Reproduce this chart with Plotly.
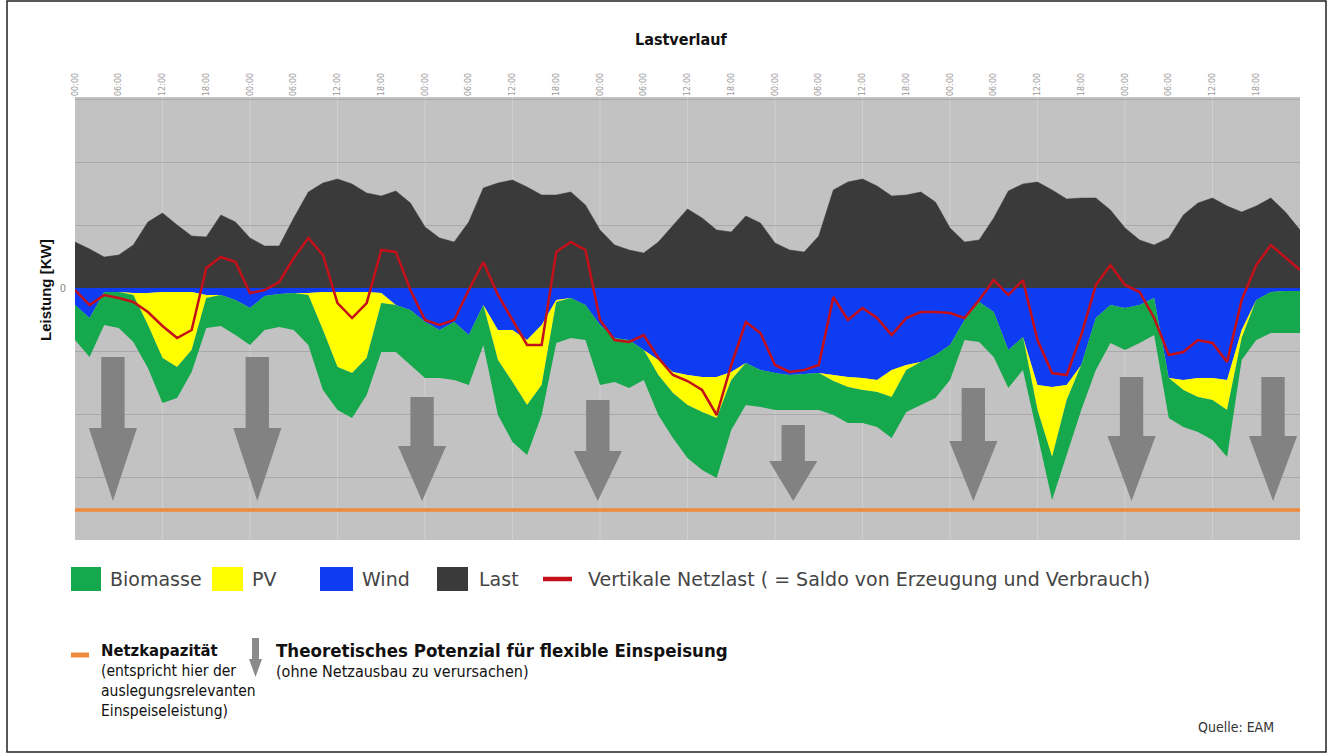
import plotly.graph_objects as go

# ---------------- data (hours since start, values in kW-scale units) ----------------
hours = [0, 2, 4, 6, 8, 10, 12, 14, 16, 18, 20, 22, 24, 26, 28, 30, 32, 34, 36, 38,
         40, 42, 44, 46, 48, 50, 52, 54, 56, 58, 60, 62, 64, 66, 68, 70, 72, 74, 76, 78,
         80, 82, 84, 86, 88, 90, 92, 94, 96, 98, 100, 102, 104, 106, 108, 110, 112, 114, 116, 118,
         120, 122, 124, 126, 128, 130, 132, 134, 136, 138, 140, 142, 144, 146, 148, 150, 152, 154, 156, 158,
         160, 162, 164, 166, 168]

last = [46, 39, 31, 33, 43, 66, 75, 63, 52, 51,
        73, 66, 50, 42, 42, 70, 96, 105, 109, 104,
        95, 92, 97, 85, 61, 50, 46, 66, 100, 105,
        108, 101, 93, 93, 96, 83, 58, 43, 38, 35,
        46, 63, 79, 70, 58, 56, 72, 65, 45, 38,
        36, 52, 98, 106, 109, 102, 92, 93, 96, 86,
        60, 46, 48, 70, 97, 104, 106, 98, 89, 90,
        90, 78, 60, 48, 43, 50, 73, 85, 90, 82,
        76, 82, 90, 76, 58]

wind = [17, 30, 4, 4, 5, 5, 4, 4, 4, 7,
        7, 12, 20, 8, 6, 5, 5, 4, 4, 4,
        4, 5, 17, 22, 34, 42, 34, 47, 17, 42,
        42, 52, 37, 12, 10, 17, 37, 50, 52, 62,
        72, 84, 87, 89, 89, 84, 75, 82, 85, 87,
        86, 85, 87, 89, 90, 92, 82, 77, 74, 67,
        57, 32, 14, 24, 62, 49, 97, 99, 97, 77,
        30, 17, 20, 17, 10, 90, 92, 90, 90, 92,
        42, 12, 4, 3, 3]

pv = [0, 0, 0, 0, 2, 32, 66, 75, 58, 3,
      0, 0, 0, 0, 0, 0, 2, 38, 75, 81,
      66, 10, 0, 0, 0, 0, 0, 0, 0, 30,
      52, 65, 60, 2, 0, 0, 0, 0, 0, 0,
      15, 21, 30, 35, 41, 8, 0, 0, 0, 0,
      0, 0, 6, 10, 12, 12, 27, 5, 0, 0,
      0, 0, 0, 0, 0, 0, 25, 70, 15, 0,
      0, 0, 0, 0, 0, 0, 10, 19, 22, 30,
      8, 0, 0, 0, 0]

biomasse = [35, 39, 33, 36, 47, 43, 45, 31, 22, 30,
            31, 35, 37, 34, 33, 37, 50, 60, 43, 45,
            37, 49, 47, 55, 56, 48, 58, 50, 40, 55,
            60, 50, 30, 41, 40, 35, 60, 44, 48, 30,
            40, 45, 53, 58, 60, 50, 42, 37, 37, 35,
            36, 37, 34, 36, 33, 35, 41, 42, 43, 43,
            35, 20, 40, 45, 38, 33, 25, 43, 55, 45,
            52, 38, 42, 38, 37, 40, 37, 35, 40, 47,
            22, 40, 41, 42, 42]

netzlast = [-2, -17, -7, -10, -14, -24, -38, -50, -42, 20,
            31, 26, -5, -2, 6, 30, 50, 33, -15, -30,
            -15, 38, 36, -2, -32, -37, -32, -2, 26, -7,
            -32, -57, -57, 36, 46, 38, -32, -52, -54, -47,
            -70, -87, -93, -102, -127, -77, -34, -45, -77, -84,
            -82, -77, -9, -32, -20, -30, -47, -30, -24, -24,
            -25, -30, -12, 8, -7, 8, -52, -85, -87, -47,
            3, 23, 3, -4, -30, -67, -64, -52, -55, -74,
            -12, 23, 43, 30, 18]

netzkapazitaet = -222

tick_hours = [0, 6, 12, 18, 24, 30, 36, 42, 48, 54, 60, 66, 72, 78, 84, 90, 96, 102, 108, 114,
              120, 126, 132, 138, 144, 150, 156, 162]
tick_text = ["00:00", "06:00", "12:00", "18:00"] * 7

# flexible-feed-in potential arrows (annotation geometry)
arrow_hours = [5.2, 25.0, 47.6, 71.7, 98.5, 123.2, 144.9, 164.3]
arrow_top = [-69, -69, -109, -112, -137, -100, -89, -89]
arrow_head = [73, 73, 55, 50, 40, 60, 65, 65]
arrow_tip = -213

# ---------------- styles ----------------
C_LAST = "#3a3a3a"
C_WIND = "#0d3cf2"
C_PV = "#ffff00"
C_BIO = "#15a84c"
C_RED = "#c4101a"
C_ORANGE = "#ef8a3c"
C_BG = "#c2c2c2"
C_ARROW = "#828282"
NARROW = "DejaVu Sans Condensed, sans-serif"
LEGFONT = "DejaVu Sans, sans-serif"

W, H = 1333, 755
ML, MR, MT, MB = 75, 33, 97, 215


def px(x):
    return (x - ML) / (W - ML - MR)


def py(y):
    return (H - MB - y) / (H - MT - MB)


fig = go.Figure()

fig.add_trace(go.Scatter(x=hours, y=last, mode="lines", fill="tozeroy",
                         line=dict(width=0.5, color=C_LAST), fillcolor=C_LAST,
                         name="Last", showlegend=False, hoverinfo="skip"))
for name, vals, col in [("Wind", wind, C_WIND), ("PV", pv, C_PV), ("Biomasse", biomasse, C_BIO)]:
    fig.add_trace(go.Scatter(x=hours, y=[-v for v in vals], mode="lines", stackgroup="gen",
                             line=dict(width=0, color=col), fillcolor=col,
                             name=name, showlegend=False, hoverinfo="skip"))
fig.add_trace(go.Scatter(x=hours, y=netzlast, mode="lines",
                         line=dict(width=2.5, color=C_RED),
                         name="Vertikale Netzlast", showlegend=False))
fig.add_trace(go.Scatter(x=[hours[0], hours[-1]], y=[netzkapazitaet, netzkapazitaet], mode="lines",
                         line=dict(width=3.5, color=C_ORANGE),
                         name="Netzkapazität", showlegend=False))

shapes = []
annotations = []
# vertical grid every 12 h
for h in range(12, 168, 12):
    shapes.append(dict(type="line", xref="x", yref="paper", x0=h, x1=h, y0=0, y1=1,
                       line=dict(color="#d0d0d0", width=1), layer="below"))

# arrows
SW, HW = 1.6, 3.3
for xc, top, head in zip(arrow_hours, arrow_top, arrow_head):
    ht = arrow_tip + head
    path = (f"M{xc - SW},{top} L{xc + SW},{top} L{xc + SW},{ht} L{xc + HW},{ht} "
            f"L{xc},{arrow_tip} L{xc - HW},{ht} L{xc - SW},{ht} Z")
    shapes.append(dict(type="path", xref="x", yref="y", path=path,
                       fillcolor=C_ARROW, line=dict(width=0), layer="above"))

# legend row
legend_items = [("Biomasse", C_BIO, 71, 101, 108), ("PV", C_PV, 212, 243, 250),
                ("Wind", C_WIND, 320, 353, 360), ("Last", C_LAST, 437, 468, 477)]
for label, col, x0, x1, tx in legend_items:
    shapes.append(dict(type="rect", xref="paper", yref="paper", x0=px(x0), x1=px(x1),
                       y0=py(591), y1=py(567), fillcolor=col, line=dict(width=0)))
    annotations.append(dict(xref="paper", yref="paper", x=px(tx), y=py(579), xanchor="left",
                            yanchor="middle", text=label, showarrow=False,
                            font=dict(family=LEGFONT, size=19, color="#454545")))
shapes.append(dict(type="line", xref="paper", yref="paper", x0=px(543), x1=px(572),
                   y0=py(579), y1=py(579), line=dict(color=C_RED, width=4.5)))
annotations.append(dict(xref="paper", yref="paper", x=px(586), y=py(579), xanchor="left",
                        yanchor="middle",
                        text="Vertikale Netzlast ( = Saldo von Erzeugung und Verbrauch)",
                        showarrow=False, font=dict(family=LEGFONT, size=19, color="#454545")))

# bottom explanation
shapes.append(dict(type="line", xref="paper", yref="paper", x0=px(71), x1=px(89),
                   y0=py(655), y1=py(655), line=dict(color=C_ORANGE, width=5)))
left_lines = [("<b>Netzkapazität</b>", 650, 16.5), ("(entspricht hier der", 671, 15.5),
              ("auslegungsrelevanten", 691, 15.5), ("Einspeiseleistung)", 711, 15.5)]
for txt, yy, fs in left_lines:
    annotations.append(dict(xref="paper", yref="paper", x=px(99), y=py(yy), xanchor="left",
                            yanchor="middle", showarrow=False, text=txt,
                            font=dict(family=NARROW, size=fs, color="#111111")))
shapes.append(dict(type="path", xref="paper", yref="paper",
                   path=(f"M{px(252)},{py(638)} L{px(259)},{py(638)} L{px(259)},{py(659)} "
                         f"L{px(262)},{py(659)} L{px(255.5)},{py(677)} L{px(249)},{py(659)} "
                         f"L{px(252)},{py(659)} Z"),
                   fillcolor="#8a8a8a", line=dict(width=0)))
annotations.append(dict(xref="paper", yref="paper", x=px(274), y=py(650), xanchor="left",
                        yanchor="middle", showarrow=False,
                        text="<b>Theoretisches Potenzial für flexible Einspeisung</b>",
                        font=dict(family=NARROW, size=18.5, color="#111111")))
annotations.append(dict(xref="paper", yref="paper", x=px(274), y=py(671), xanchor="left",
                        yanchor="middle", showarrow=False,
                        text="(ohne Netzausbau zu verursachen)",
                        font=dict(family=NARROW, size=16, color="#111111")))
annotations.append(dict(xref="paper", yref="paper", x=px(1276), y=py(727), xanchor="right",
                        yanchor="middle", showarrow=False, text="Quelle: EAM",
                        font=dict(family=NARROW, size=14, color="#333333")))

# title and axis title
annotations.append(dict(xref="paper", yref="paper", x=px(681), y=py(40), xanchor="center",
                        yanchor="middle", showarrow=False, text="<b>Lastverlauf</b>",
                        font=dict(family=NARROW, size=16, color="#111111")))
annotations.append(dict(xref="paper", yref="paper", x=px(45), y=py(290), xanchor="center",
                        yanchor="middle", showarrow=False, text="<b>Leistung [KW]</b>",
                        textangle=-90, font=dict(family="Liberation Sans, Arial, sans-serif",
                                                 size=15, color="#111111")))

# outer frame
shapes.append(dict(type="rect", xref="paper", yref="paper", x0=px(7), x1=px(1326),
                   y0=py(752), y1=py(1), line=dict(color="#222222", width=1.5),
                   fillcolor="rgba(0,0,0,0)", layer="below"))

fig.update_layout(
    width=W, height=H,
    margin=dict(l=ML, r=MR, t=MT, b=MB),
    paper_bgcolor="white", plot_bgcolor=C_BG,
    showlegend=False,
    shapes=shapes, annotations=annotations,
    xaxis=dict(range=[0, 168], side="top", tickmode="array", tickvals=tick_hours,
               ticktext=tick_text, tickangle=-90, ticks="", showgrid=False,
               zeroline=False, showline=False, fixedrange=True,
               tickfont=dict(family="DejaVu Sans, sans-serif", size=8, color="#9a9a9a")),
    yaxis=dict(range=[-252, 191], tickmode="array",
               tickvals=[-252, -189, -126, -63, 0, 63, 126, 189],
               ticktext=["", "", "", "", "0", "", "", ""], ticks="", showgrid=True,
               gridcolor="#a9a9a9", gridwidth=1, zeroline=False, showline=False,
               ticklabelstandoff=8, fixedrange=True,
               tickfont=dict(family="DejaVu Sans, sans-serif", size=10, color="#8a8a8a")),
)

fig.write_html("out.html", config={"displayModeBar": False},
               post_script="document.body.style.margin='0';document.body.style.overflow='hidden';")
